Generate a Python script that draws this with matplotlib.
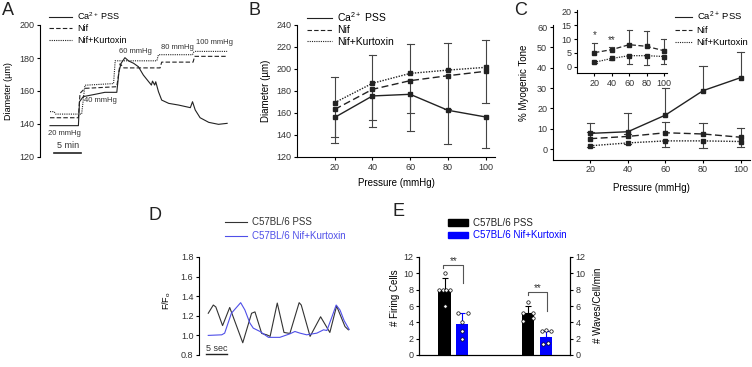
import matplotlib
matplotlib.use("Agg")
import matplotlib.pyplot as plt
from matplotlib.lines import Line2D
from matplotlib.patches import Patch

plt.rcParams['font.family'] = ['Liberation Sans', 'DejaVu Sans']
plt.rcParams['mathtext.fontset'] = 'custom'
plt.rcParams['mathtext.rm'] = 'Liberation Sans'
plt.rcParams['mathtext.it'] = 'Liberation Sans'

# ---- data ----
# A: diameter traces (time in min, diameter in um)
a_t_pss = [1.85, 7.1, 7.3, 8.0, 10.2, 12.0, 14.2, 14.6, 15.0, 15.7, 16.4, 17.3, 18.2,
           19.1, 20.1, 20.6, 20.8, 21.2, 21.4, 21.9, 22.5, 23.8, 25.6, 27.8, 28.2,
           28.7, 29.6, 31.2, 33.0, 34.6]
a_pss = [139.0, 139.0, 153.5, 156.6, 158.0, 159.2, 159.2, 171.7, 176.8, 180.2, 178.2,
         176.8, 174.7, 169.7, 165.6, 163.6, 166.0, 163.6, 165.6, 159.6, 154.5, 152.5,
         151.5, 149.9, 153.5, 148.5, 143.8, 141.0, 139.8, 140.4]
a_t_nif = [1.85, 7.1, 7.4, 8.3, 14.2, 14.8, 15.5, 22.2, 22.5, 28.3, 28.6, 34.6]
a_nif = [143.8, 143.8, 158.6, 161.6, 162.6, 176.5, 174.0, 174.0, 177.5, 177.5, 181.0, 181.0]
a_t_nk = [1.85, 2.6, 2.9, 7.7, 8.3, 13.6, 13.9, 21.6, 21.9, 28.2, 28.4, 28.7, 34.6]
a_nk = [147.5, 147.5, 146.0, 146.0, 163.5, 164.5, 178.3, 178.3, 182.0, 182.0, 183.5, 184.0, 184.0]
a_steps = ['20 mmHg', '40 mmHg', '60 mmHg', '80 mmHg', '100 mmHg']

# B: diameter vs pressure
pressure = [20, 40, 60, 80, 100]
b_pss = [156, 175.5, 177, 162.5, 156.4]
b_pss_err = [23, 28, 33, 30.5, 28]
b_nif = [163.3, 181.5, 189.4, 193.9, 197.9]
b_nif_err = [25, 28, 29.5, 30, 29]
b_nk = [169.4, 187, 196, 199, 201.5]
b_nk_err = [23, 26, 26.5, 25, 24.5]

# C: myogenic tone
c_pss = [7.7, 8.5, 16.7, 28.7, 35.1]
c_pss_err = [4.9, 9.0, 13.2, 11.9, 12.4]
c_nif = [5.1, 6.2, 8.0, 7.4, 5.8]
c_nif_err = [3.5, 1.0, 5.5, 5.4, 4.3]
c_nk = [1.6, 3.0, 4.0, 4.0, 3.7]
c_nk_err = [0.4, 0.6, 2.9, 3.3, 2.9]

# D: calcium traces (time in s, F/F0)
d_t_pss = [0.1, 1.3, 1.9, 3.5, 5.2, 8.3, 10.4, 11.2, 12.8, 14.0, 14.8, 16.5, 18.1,
           19.5, 21.7, 22.2, 24.3, 26.8, 29.0, 30.6, 32.6, 33.4]
d_pss = [1.226, 1.31, 1.29, 1.10, 1.285, 0.925, 1.226, 1.24, 1.02, 1.006, 0.99, 1.33,
         1.03, 1.02, 1.334, 1.31, 0.99, 1.19, 1.03, 1.30, 1.09, 1.057]
d_t_nk = [0.1, 3.3, 4.0, 5.6, 7.8, 8.8, 10.0, 10.8, 12.4, 14.4, 17.1, 19.5, 20.7, 21.9,
          23.5, 25.9, 27.5, 28.3, 29.5, 30.5, 31.4, 32.4, 33.6]
d_nk = [1.0, 1.006, 1.023, 1.226, 1.334, 1.26, 1.125, 1.074, 1.04, 0.98, 0.98, 1.016,
        1.04, 1.023, 1.006, 1.023, 1.057, 1.05, 1.19, 1.31, 1.26, 1.15, 1.06]

# E: bars
e_pss_mean = [8.0, 5.1]
e_pss_err = [1.45, 0.9]
e_nk_mean = [3.8, 2.2]
e_nk_err = [1.35, 0.75]
fire_pss_pts = [10.0, 8.0, 8.0, 8.0, 8.0, 6.0]
fire_nk_pts = [5.1, 5.1, 4.0, 3.0, 2.0]
wave_pss_pts = [6.5, 5.2, 5.2, 4.2, 4.5]
wave_nk_pts = [3.0, 3.1, 3.0, 1.3, 1.5]

labels3 = ['Ca$^{2+}$ PSS', 'Nif', 'Nif+Kurtoxin']
labels_e = ['C57BL/6 PSS', 'C57BL/6 Nif+Kurtoxin']
BLUE_LINE = '#4f4fe8'
BLUE_BAR = '#0000ff'
INK = '#222222'
DASH = (0, (4, 2))
DOT = (0, (1, 1))

fig = plt.figure(figsize=(7.52, 3.67), dpi=100)
W, H = 752, 367


def add_ax(l, t, r, b):
    return fig.add_axes([l / W, 1 - b / H, (r - l) / W, (b - t) / H])


def style(ax, fs=6.5):
    for s in ['top', 'right']:
        ax.spines[s].set_visible(False)
    for s in ax.spines.values():
        s.set_linewidth(0.8)
    ax.tick_params(labelsize=fs, length=2.5, width=0.8, pad=1.5, labelcolor='#333333')
    ax.patch.set_alpha(0)


def legend_at(ax, handles, labels, x, y, fs, hl, gap=0.3):
    return ax.legend(handles, labels, loc='upper left',
                     bbox_to_anchor=(x / W, 1 - y / H), bbox_transform=fig.transFigure,
                     frameon=False, fontsize=fs, handlelength=hl, handletextpad=0.5,
                     labelspacing=gap, borderpad=0, borderaxespad=0)


def one_side_err(ax, x, y, err, sign, capw, color='#444444'):
    for xi, yi, ei in zip(x, y, err):
        end = yi + sign * ei
        ax.plot([xi, xi], [yi, end], color=color, lw=0.8, zorder=1)
        ax.plot([xi - capw, xi + capw], [end, end], color=color, lw=0.8, zorder=1)


line_handles = [Line2D([], [], color=INK, lw=0.8, ls='-'),
                Line2D([], [], color=INK, lw=0.8, ls=DASH),
                Line2D([], [], color=INK, lw=0.8, ls=DOT)]

# ---------------- A ----------------
ax = add_ax(40, 25, 232, 157)
style(ax)
ax.spines['bottom'].set_visible(False)
ax.set_xticks([])
ax.set_xlim(0, 35.5)
ax.set_ylim(120, 200)
ax.set_yticks([120, 140, 160, 180, 200])
ax.plot(a_t_pss, a_pss, color=INK, lw=0.8)
ax.plot(a_t_nif, a_nif, color=INK, lw=0.8, ls=DASH)
ax.plot(a_t_nk, a_nk, color=INK, lw=0.8, ls=DOT)
ax.text(4.6, 134.5, a_steps[0], fontsize=5.5, ha='center', va='center', color='#333333')
ax.text(8.1, 154.5, a_steps[1], fontsize=5.5, ha='left', va='center', color='#333333')
ax.text(17.7, 183.8, a_steps[2], fontsize=5.5, ha='center', va='center', color='#333333')
ax.text(25.4, 186.2, a_steps[3], fontsize=5.5, ha='center', va='center', color='#333333')
ax.text(32.3, 189.2, a_steps[4], fontsize=5.5, ha='center', va='center', color='#333333')
ax.plot([2.65, 7.65], [122.2, 122.2], color=INK, lw=1.2, clip_on=False)
ax.text(5.15, 124.0, '5 min', fontsize=6.5, ha='center', va='bottom', color='#333333')
ax.set_ylabel('Diameter (µm)', fontsize=6.5)
ax.yaxis.set_label_coords(-0.14, 0.5)
legend_at(ax, line_handles, labels3, 49, 10, 6.5, 2.6)

# ---------------- B ----------------
ax = add_ax(297, 25, 495, 157)
style(ax)
ax.set_xlim(0, 105)
ax.set_ylim(120, 240)
ax.set_xticks(pressure)
ax.set_yticks(range(120, 241, 20))
one_side_err(ax, pressure, b_pss, b_pss_err, -1, 1.9)
one_side_err(ax, pressure, b_nif, b_nif_err, -1, 1.9)
one_side_err(ax, pressure, b_nk, b_nk_err, +1, 1.9)
kw = dict(color=INK, lw=1.0, marker='s', ms=2.5, zorder=3)
ax.plot(pressure, b_pss, ls='-', **kw)
ax.plot(pressure, b_nif, ls=(0, (5, 2.5)), **kw)
ax.plot(pressure, b_nk, ls=DOT, **kw)
ax.set_xlabel('Pressure (mmHg)', fontsize=7)
ax.xaxis.set_label_coords(0.5, -0.16)
ax.set_ylabel('Diameter (µm)', fontsize=7)
ax.yaxis.set_label_coords(-0.13, 0.5)
legend_at(ax, line_handles, labels3, 307, 10, 7.5, 2.4, gap=0.15)

# ---------------- C ----------------
ax = add_ax(552.7, 25, 750, 159.6)
style(ax)
ax.set_xlim(0, 105)
ax.set_ylim(-5.2, 61)
ax.set_xticks(pressure)
ax.set_yticks(range(0, 61, 10))
one_side_err(ax, pressure, c_pss, c_pss_err, +1, 1.9)
one_side_err(ax, pressure, c_nif, c_nif_err, +1, 1.9)
one_side_err(ax, pressure, c_nk, c_nk_err, -1, 1.9)
ax.plot(pressure, c_pss, ls='-', **kw)
ax.plot(pressure, c_nif, ls=(0, (5, 2.5)), **kw)
ax.plot(pressure, c_nk, ls=DOT, **kw)
ax.set_xlabel('Pressure (mmHg)', fontsize=7)
ax.xaxis.set_label_coords(0.5, -0.175)
ax.set_ylabel('% Myogenic Tone', fontsize=7)
ax.yaxis.set_label_coords(-0.12, 0.57)
legend_at(ax, line_handles, labels3, 675, 10, 6.8, 1.8, gap=0.3)

ins = add_ax(577, 10.3, 667, 73)
style(ins)
ins.set_xlim(0, 103.5)
ins.set_ylim(-2.3, 20.5)
ins.set_xticks(pressure)
ins.set_yticks(range(0, 21, 5))
one_side_err(ins, pressure, c_nif, c_nif_err, +1, 2.9)
one_side_err(ins, pressure, c_nk, c_nk_err, -1, 2.9)
ins.plot(pressure, c_nif, ls=(0, (4, 2)), color=INK, lw=0.9, marker='s', ms=2.3, zorder=3)
ins.plot(pressure, c_nk, ls=DOT, color=INK, lw=0.9, marker='s', ms=2.3, zorder=3)
ins.text(20, 9.6, '*', fontsize=7, ha='center', va='bottom', color='#333333')
ins.text(40, 7.9, '**', fontsize=7, ha='center', va='bottom', color='#333333')

# ---------------- D ----------------
ax = add_ax(199, 257, 353, 355)
style(ax)
ax.spines['bottom'].set_visible(False)
ax.set_xticks([])
ax.set_xlim(-2.1, 34.5)
ax.set_ylim(0.8, 1.8)
ax.set_yticks([0.8, 1.0, 1.2, 1.4, 1.6, 1.8])
ax.set_yticklabels(['0.8', '1.0', '1.2', '1.4', '1.6', '1.8'])
ax.plot(d_t_pss, d_pss, color='#333333', lw=0.8)
ax.plot(d_t_nk, d_nk, color=BLUE_LINE, lw=0.8)
ax.plot([-0.5, 4.5], [0.815, 0.815], color=INK, lw=1.0, clip_on=False)
ax.text(2.0, 0.825, '5 sec', fontsize=6.5, ha='center', va='bottom', color='#333333')
ax.set_ylabel('F/F$_o$', fontsize=6.5)
ax.yaxis.set_label_coords(-0.17, 0.56)
leg = legend_at(ax, [Line2D([], [], color='#333333', lw=0.8),
                     Line2D([], [], color=BLUE_LINE, lw=0.8)],
                labels_e, 225, 217, 7, 2.3, gap=0.45)
leg.get_texts()[0].set_color('#333333')
leg.get_texts()[1].set_color(BLUE_LINE)

# ---------------- E ----------------
ax = add_ax(419, 257, 570, 355)
style(ax)
ax.spines['right'].set_visible(True)
ax.set_xlim(-1.457, 7.17)
ax.set_ylim(0, 12)
ax.set_xticks([])
ax.set_yticks(range(0, 13, 2))
ax2 = ax.twinx()
ax2.set_ylim(0, 12)
ax2.set_yticks(range(0, 13, 2))
ax2.spines['top'].set_visible(False)
ax2.spines['right'].set_linewidth(0.8)
ax2.tick_params(labelsize=6.5, length=2.5, width=0.8, pad=1.5, labelcolor='#333333')

x_pss = [0, 4.76]
x_nk = [1.01, 5.8]
bw = 0.71
jit_pss = [[0, -0.3, -0.1, 0.1, 0.3, 0], [0, -0.26, 0.28, -0.26, 0.28]]
jit_nk = [[-0.26, 0.31, 0, 0, 0], [-0.25, 0, 0.27, -0.15, 0.13]]
pts_pss = [fire_pss_pts, wave_pss_pts]
pts_nk = [fire_nk_pts, wave_nk_pts]
for i, target in enumerate([ax, ax2]):
    target.bar(x_pss[i], e_pss_mean[i], width=bw, color='black', zorder=2)
    target.bar(x_nk[i], e_nk_mean[i], width=bw, color=BLUE_BAR, zorder=2)
    target.errorbar(x_pss[i], e_pss_mean[i], yerr=[[0], [e_pss_err[i]]], color='black',
                    lw=0.8, capsize=2.5, capthick=0.8, zorder=1)
    target.errorbar(x_nk[i], e_nk_mean[i], yerr=[[0], [e_nk_err[i]]], color=BLUE_BAR,
                    lw=0.8, capsize=2.5, capthick=0.8, zorder=1)
    target.scatter([x_pss[i] + j for j in jit_pss[i]], pts_pss[i], s=6, facecolor='white',
                   edgecolor='black', linewidth=0.5, zorder=3)
    target.scatter([x_nk[i] + j for j in jit_nk[i]], pts_nk[i], s=6, facecolor='white',
                   edgecolor='black', linewidth=0.5, zorder=3)

# significance brackets
ax.plot([-0.07, -0.07, 1.07, 1.07], [10.6, 11.0, 11.0, 8.8], color='#555555', lw=0.8)
ax.text(0.5, 10.9, '**', fontsize=7, ha='center', va='bottom', color='#333333')
ax2.plot([4.75, 4.75, 5.87, 5.87], [7.3, 7.7, 7.7, 5.4], color='#555555', lw=0.8)
ax2.text(5.31, 7.6, '**', fontsize=7, ha='center', va='bottom', color='#333333')

ax.set_ylabel('# Firing Cells', fontsize=7)
ax.yaxis.set_label_coords(-0.125, 0.58)
ax2.set_ylabel('# Waves/Cell/min', fontsize=7)
ax2.yaxis.set_label_coords(1.152, 0.51)
leg = legend_at(ax2, [Patch(color='black'), Patch(color=BLUE_BAR)], labels_e,
                448, 218, 7, 2.1, gap=0.25)
leg.get_texts()[0].set_color('#222222')
leg.get_texts()[1].set_color(BLUE_BAR)

# panel letters
for letter, x, y in [('A', 2, 2), ('B', 249, 2), ('C', 514, 2), ('D', 149, 207), ('E', 392, 203)]:
    fig.text(x / W, 1 - y / H, letter, fontsize=13, ha='left', va='top', color='#222222')

fig.savefig('out.png', dpi=100)
